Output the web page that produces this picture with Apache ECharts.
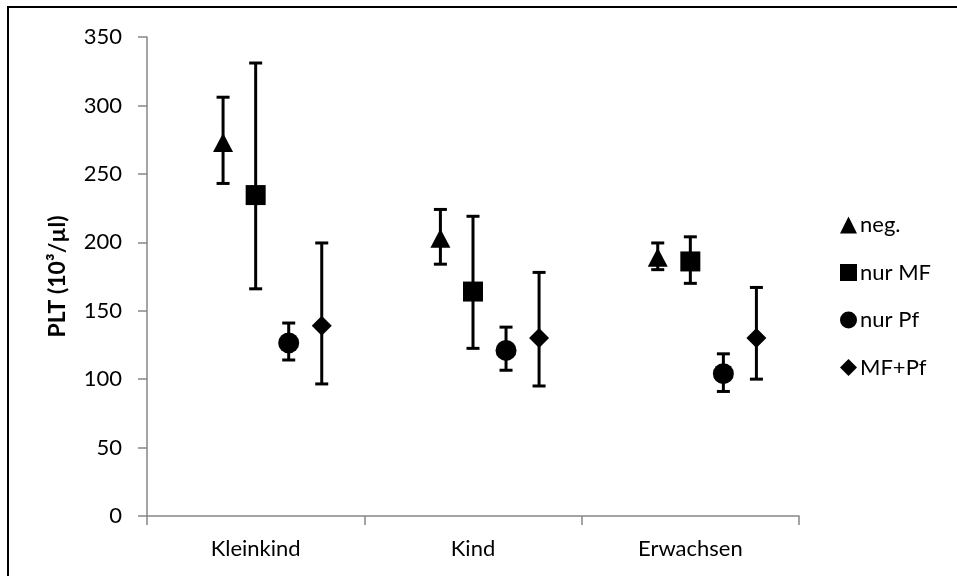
<!DOCTYPE html>
<html>
<head>
<meta charset="utf-8">
<script src="https://cdn.jsdelivr.net/npm/echarts@6/dist/echarts.min.js"></script>
<style>
html,body{margin:0;padding:0;background:#fff;}
#chart{width:957px;height:576px;}
</style>
</head>
<body>
<div id="chart"></div>
<script>
const categories = ['Kleinkind', 'Kind', 'Erwachsen'];
const seriesNames = ['neg.', 'nur MF', 'nur Pf', 'MF+Pf'];
// mean values per series (Kleinkind, Kind, Erwachsen)
const negMean = [273, 203, 189];
const negLow = [243, 184, 180];
const negHigh = [306, 224, 199.5];
const mfMean = [234.5, 164, 186];
const mfLow = [166, 122.5, 170];
const mfHigh = [331, 219, 204];
const pfMean = [126.5, 121, 104];
const pfLow = [114, 106.5, 91];
const pfHigh = [141, 138, 118.5];
const mfpfMean = [139, 130, 130];
const mfpfLow = [96.5, 95, 100];
const mfpfHigh = [199.5, 178, 167];
const yTicks = [0, 50, 100, 150, 200, 250, 300, 350];

const means = [negMean, mfMean, pfMean, mfpfMean];
const lows = [negLow, mfLow, pfLow, mfpfLow];
const highs = [negHigh, mfHigh, pfHigh, mfpfHigh];
const symbols = ['triangle', 'rect', 'circle', 'diamond'];
const symbolSizes = [[20, 19], 20, 21, [20, 20]];
const offsets = [-0.15, 0, 0.152, 0.304];

const font = 'Lato, "Open Sans", sans-serif';
const chart = echarts.init(document.getElementById('chart'));

const series = [];
seriesNames.forEach((name, s) => {
  const pts = categories.map((c, i) => [i + 0.5 + offsets[s], means[s][i]]);
  const errs = categories.map((c, i) => [i + 0.5 + offsets[s], lows[s][i], highs[s][i]]);
  series.push({
    type: 'custom',
    name: name + ' err',
    xAxisIndex: 1,
    yAxisIndex: 0,
    data: errs,
    silent: true,
    z: 2,
    renderItem: function (params, api) {
      const x = api.value(0);
      const lo = api.coord([x, api.value(1)]);
      const hi = api.coord([x, api.value(2)]);
      const hw = 6.5;
      const style = { stroke: '#000', lineWidth: 3, fill: null };
      return {
        type: 'group',
        children: [
          { type: 'line', shape: { x1: lo[0], y1: lo[1], x2: hi[0], y2: hi[1] }, style: style },
          { type: 'line', shape: { x1: lo[0] - hw, y1: lo[1], x2: lo[0] + hw, y2: lo[1] }, style: style },
          { type: 'line', shape: { x1: hi[0] - hw, y1: hi[1], x2: hi[0] + hw, y2: hi[1] }, style: style }
        ]
      };
    }
  });
  series.push({
    type: 'scatter',
    name: name,
    xAxisIndex: 1,
    yAxisIndex: 0,
    data: pts,
    symbol: symbols[s],
    symbolSize: symbolSizes[s],
    itemStyle: { color: '#000', opacity: 1 },
    z: 3
  });
});

chart.setOption({
  animation: false,
  backgroundColor: '#fff',
  grid: { left: 147, right: 158, top: 37, bottom: 60, containLabel: false },
  graphic: [{
    type: 'rect',
    shape: { x: 8, y: 7, width: 1000, height: 1000 },
    style: { fill: null, stroke: '#000', lineWidth: 2 },
    silent: true
  }],
  legend: {
    orient: 'vertical',
    left: 835,
    top: 209,
    itemWidth: 17,
    itemHeight: 17,
    itemGap: 25.5,
    data: seriesNames.map((n, s) => ({ name: n, icon: symbols[s], itemStyle: { color: '#000', opacity: 1 } })),
    textStyle: { fontFamily: font, fontSize: 22, color: '#000', padding: [0, 0, 0, -2] },
    selectedMode: false
  },
  xAxis: [{
    type: 'category',
    data: categories,
    boundaryGap: true,
    axisLine: { lineStyle: { color: '#868686', width: 1.5 } },
    axisTick: { show: true, length: 9, lineStyle: { color: '#868686', width: 1.5 } },
    axisLabel: { fontFamily: font, fontSize: 22, color: '#000', margin: 22 },
    splitLine: { show: false }
  }, {
    type: 'value',
    min: 0,
    max: 3,
    show: false
  }],
  yAxis: [{
    type: 'value',
    min: 0,
    max: 350,
    interval: 50,
    name: 'PLT (10³/µl)',
    nameLocation: 'middle',
    nameGap: 78,
    nameTextStyle: { fontFamily: font, fontSize: 23, fontWeight: 'bold', color: '#000' },
    axisLine: { show: true, lineStyle: { color: '#868686', width: 1.5 } },
    axisTick: { show: true, length: 9, lineStyle: { color: '#868686', width: 1.5 } },
    axisLabel: {
      fontFamily: font, fontSize: 22, color: '#000', margin: 25,
      formatter: v => (yTicks.indexOf(v) >= 0 ? String(v) : '')
    },
    splitLine: { show: false }
  }],
  series: series
});
</script>
</body>
</html>
